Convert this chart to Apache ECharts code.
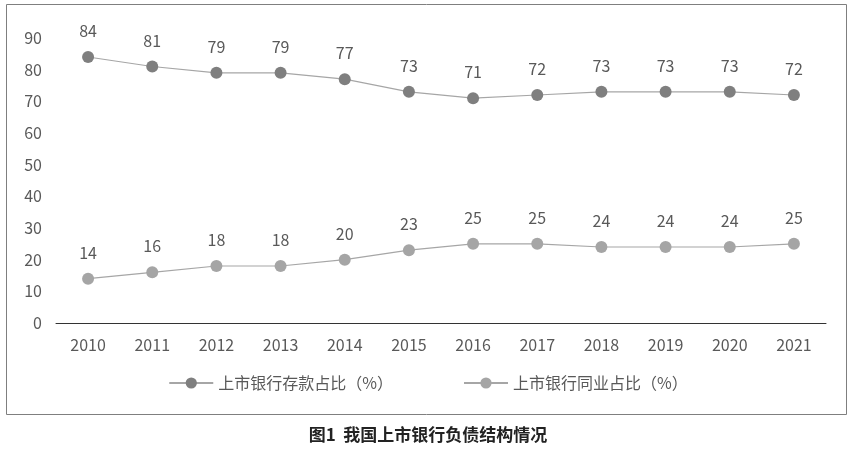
<!DOCTYPE html>
<html><head><meta charset="utf-8">
<script src="https://cdn.jsdelivr.net/npm/echarts@6/dist/echarts.min.js"></script>
<style>html,body{margin:0;padding:0;background:#fff}#c{width:856px;height:453px}</style>
</head><body><div id="c"></div>
<script>
const years=['2010','2011','2012','2013','2014','2015','2016','2017','2018','2019','2020','2021'];
const deposit=[84,81,79,79,77,73,71,72,73,73,73,72];
const interbank=[14,16,18,18,20,23,25,25,24,24,24,25];
const yTicks=[0,10,20,30,40,50,60,70,80,90];
const names=['上市银行存款占比（%）','上市银行同业占比（%）'];
const font='"Noto Sans CJK SC","Noto Sans",sans-serif';
const chart=echarts.init(document.getElementById('c'));
function s(name,data,color){return {name,type:'line',data,symbol:'circle',symbolSize:12,
 itemStyle:{color},lineStyle:{color:'#a6a6a6',width:1.2},
 label:{show:true,position:'top',distance:12,color:'#595959',fontSize:16,fontFamily:font}};}
chart.setOption({
 animation:false,
 grid:{left:56,right:30,top:38,bottom:130},
 graphic:[
  {type:'rect',shape:{x:6.5,y:4.5,width:840,height:410},style:{fill:'none',stroke:'#7f7f7f',lineWidth:1}},
  {type:'text',left:'center',top:426,style:{text:'图1  我国上市银行负债结构情况',font:'bold 17px '+font,fill:'#222'}}
 ],
 legend:{bottom:57,left:'center',itemGap:70,itemWidth:44,itemHeight:14,
  textStyle:{color:'#595959',fontSize:16,fontFamily:font},data:names},
 xAxis:{type:'category',data:years,boundaryGap:true,
  axisLine:{lineStyle:{color:'#333'}},axisTick:{show:false},
  axisLabel:{color:'#595959',fontSize:16,margin:14,fontFamily:font}},
 yAxis:{type:'value',min:yTicks[0],max:yTicks[yTicks.length-1],interval:10,
  splitLine:{show:false},axisLine:{show:false},axisTick:{show:false},
  axisLabel:{color:'#595959',fontSize:16,margin:14,fontFamily:font}},
 series:[s(names[0],deposit,'#7f7f7f'),s(names[1],interbank,'#a5a5a5')]
});
</script></body></html>
